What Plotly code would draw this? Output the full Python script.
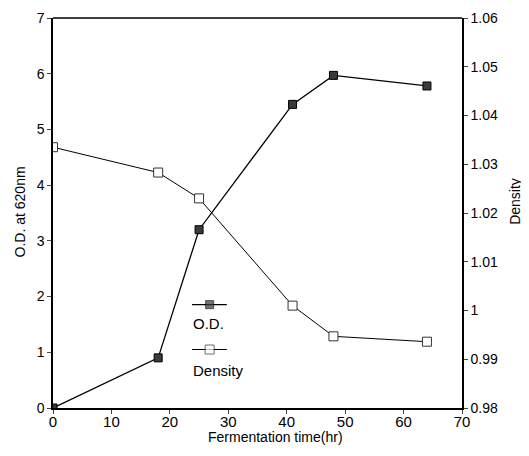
import plotly.graph_objects as go

time_od = [0, 18, 25, 41, 48, 64]
od_values = [0.0, 0.9, 3.2, 5.45, 5.97, 5.78]
time_density = [0, 18, 25, 41, 48, 64]
density_values = [1.0335, 1.0283, 1.023, 1.001, 0.9947, 0.9936]

x_ticks = [0, 10, 20, 30, 40, 50, 60, 70]
y_ticks = [0, 1, 2, 3, 4, 5, 6, 7]
y2_ticks = [0.98, 0.99, 1.0, 1.01, 1.02, 1.03, 1.04, 1.05, 1.06]
y2_labels = ["0.98", "0.99", "1", "1.01", "1.02", "1.03", "1.04", "1.05", "1.06"]

FONT = "Liberation Sans, Arial, sans-serif"

fig = go.Figure()
fig.add_trace(go.Scatter(
    x=time_od, y=od_values, mode="lines+markers", name="O.D.",
    line=dict(color="black", width=1.3),
    marker=dict(symbol="square", size=8, color="#3a3a3a", line=dict(color="black", width=1)),
    showlegend=False))
fig.add_trace(go.Scatter(
    x=time_density, y=density_values, mode="lines+markers", name="Density",
    yaxis="y2",
    line=dict(color="black", width=1),
    marker=dict(symbol="square", size=9, color="white", line=dict(color="#333", width=1)),
    showlegend=False))

# manual legend (symbol above text) on a hidden overlay axis
fig.add_trace(go.Scatter(
    x=[0.383, 0.383], y=[0.265, 0.150], mode="markers", xaxis="x3", yaxis="y3",
    marker=dict(symbol="square", size=[8, 9], color=["#3a3a3a", "white"],
                line=dict(color=["black", "#333"], width=1)),
    showlegend=False, hoverinfo="skip"))

shapes = [
    dict(type="line", xref="paper", yref="paper", x0=0.34, x1=0.425, y0=0.265, y1=0.265,
         line=dict(color="black", width=1.3), layer="below"),
    dict(type="line", xref="paper", yref="paper", x0=0.34, x1=0.425, y0=0.150, y1=0.150,
         line=dict(color="black", width=1), layer="below"),
    dict(type="line", xref="paper", yref="paper", x0=0, x1=1, y0=1, y1=1,
         line=dict(color="black", width=1.5)),
]
annotations = [
    dict(text="O.D.", xref="paper", yref="paper", x=0.338, y=0.216, xanchor="left",
         yanchor="middle", showarrow=False, font=dict(family=FONT, size=15, color="black")),
    dict(text="Density", xref="paper", yref="paper", x=0.338, y=0.097, xanchor="left",
         yanchor="middle", showarrow=False, font=dict(family=FONT, size=15, color="black")),
    dict(text="O.D. at 620nm", xref="paper", yref="paper", x=-0.0807, y=0.504, textangle=-90,
         xanchor="center", yanchor="middle", showarrow=False, font=dict(family=FONT, size=14, color="black")),
    dict(text="Density", xref="paper", yref="paper", x=1.13, y=0.529, textangle=-90,
         xanchor="center", yanchor="middle", showarrow=False, font=dict(family=FONT, size=14, color="black")),
    dict(text="Fermentation time(hr)", xref="paper", yref="paper", x=0.543, y=-0.074,
         xanchor="center", yanchor="middle", showarrow=False, font=dict(family=FONT, size=14, color="black")),
]

# page body has an 8px default margin, so the figure is 8px smaller and margins shifted
fig.update_layout(
    width=521, height=448,
    margin=dict(l=45, r=67, t=10, b=48),
    paper_bgcolor="white", plot_bgcolor="white",
    font=dict(family=FONT, size=14, color="black"),
    xaxis=dict(range=[0, 70], tickvals=x_ticks, ticks="outside", ticklen=4, automargin=False,
               showline=True, linecolor="black", linewidth=1.5, showgrid=False, zeroline=False,
               tickfont=dict(size=15), ticklabelstandoff=-5, ticklabeloverflow="allow"),
    yaxis=dict(range=[0, 7], tickvals=y_ticks, ticks="outside", ticklen=4, automargin=False,
               showline=True, linecolor="black", linewidth=1.5, showgrid=False, zeroline=False,
               tickfont=dict(size=14), ticklabeloverflow="allow"),
    yaxis2=dict(range=[0.98, 1.06], tickvals=y2_ticks, ticktext=y2_labels, overlaying="y",
                side="right", ticks="outside", ticklen=4, showline=True, linecolor="black",
                automargin=False, linewidth=1.5, showgrid=False, zeroline=False, tickfont=dict(size=14),
                ticklabeloverflow="allow"),
    xaxis3=dict(domain=[0, 1], range=[0, 1], visible=False, overlaying="x"),
    yaxis3=dict(range=[0, 1], visible=False, overlaying="y"),
    shapes=shapes, annotations=annotations,
)

fig.write_html("out.html")
